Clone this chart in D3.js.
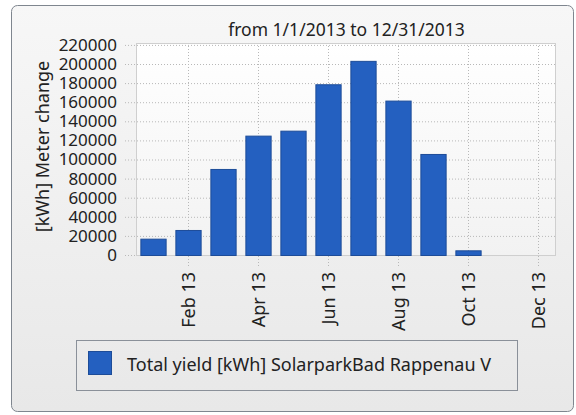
<!DOCTYPE html>
<html>
<head>
<meta charset="utf-8">
<script src="https://cdn.jsdelivr.net/npm/d3@7"></script>
<style>
  body { margin: 0; background: #fff; }
  .axis text { font-family: "Noto Sans", sans-serif; fill: #222; }
  .grid line { stroke: #b8b8b8; stroke-dasharray: 1,2; }
</style>
</head>
<body>
<div class="one"></div>
<script>
// data
let months = ["Jan 13","Feb 13","Mar 13","Apr 13","May 13","Jun 13","Jul 13","Aug 13","Sep 13","Oct 13","Nov 13","Dec 13"];
let values = [17100, 26200, 90100, 125000, 130200, 178800, 203300, 161700, 105800, 4900, 0, 0];
let tickLabels = ["Feb 13","Apr 13","Jun 13","Aug 13","Oct 13","Dec 13"];
let yTicks = [0,20000,40000,60000,80000,100000,120000,140000,160000,180000,200000,220000];
let title = "from 1/1/2013 to 12/31/2013";
let yTitle = "[kWh] Meter change";
let seriesName = "Total yield [kWh] SolarparkBad Rappenau V";

let width = 576, height = 415;
let plot = {left: 136, right: 556, top: 43, bottom: 255};

let svg = d3.select(".one").append("svg")
  .attr("width", width)
  .attr("height", height);

let defs = svg.append("defs");
let bg = defs.append("linearGradient").attr("id","bg").attr("x1",0).attr("y1",0).attr("x2",0).attr("y2",1);
bg.append("stop").attr("offset","0%").attr("stop-color","#f7f7f7");
bg.append("stop").attr("offset","100%").attr("stop-color","#e8e8e8");
let pg = defs.append("linearGradient").attr("id","pg").attr("x1",0).attr("y1",0).attr("x2",0).attr("y2",1);
pg.append("stop").attr("offset","0%").attr("stop-color","#ffffff");
pg.append("stop").attr("offset","100%").attr("stop-color","#f2f2f2");

// outer panel
svg.append("rect")
  .attr("x", 11.5).attr("y", 5.5)
  .attr("width", 562).attr("height", 406)
  .attr("rx", 6)
  .attr("fill", "url(#bg)")
  .attr("stroke", "#7f868f");

let xScale = d3.scaleBand().domain(months)
  .range([plot.left, plot.right])
  .paddingInner(0.25).paddingOuter(0.125);

let yScale = d3.scaleLinear().domain([0, 222000]).range([plot.bottom, plot.top]);

// plot background
svg.append("rect")
  .attr("x", plot.left).attr("y", plot.top)
  .attr("width", plot.right - plot.left).attr("height", plot.bottom - plot.top)
  .attr("fill", "url(#pg)");

let xAxis = d3.axisBottom(xScale)
  .tickValues(tickLabels)
  .tickSizeInner(-(plot.bottom - plot.top))
  .tickSizeOuter(0)
  .tickPadding(6);

let yAxis = d3.axisLeft(yScale)
  .tickValues(yTicks)
  .tickFormat(d3.format("d"))
  .tickSize(-(plot.right - plot.left))
  .tickSizeOuter(0)
  .tickPadding(19);

let gx = svg.append("g")
  .attr("class","axis grid")
  .attr("transform","translate(0," + plot.bottom + ")")
  .call(xAxis);
gx.select(".domain").remove();
// gridline extends a bit below the axis
gx.selectAll(".tick line").attr("y1", 11);
gx.selectAll(".tick text")
  .style("font-size","18px")
  .attr("transform","rotate(-90)")
  .attr("text-anchor","end")
  .attr("x", -17).attr("y", 0).attr("dy", "0.35em");

let gy = svg.append("g")
  .attr("class","axis grid")
  .attr("transform","translate(" + plot.left + ",0)")
  .call(yAxis);
gy.select(".domain").remove();
gy.selectAll(".tick line").attr("x2", plot.right - plot.left).attr("x1", -11);
gy.selectAll(".tick text").style("font-size","17px");

// plot border
svg.append("rect")
  .attr("x", plot.left + 0.5).attr("y", plot.top + 0.5)
  .attr("width", plot.right - plot.left - 1).attr("height", plot.bottom - plot.top)
  .attr("fill","none")
  .attr("stroke","#cfcfcf");

// bars
svg.append("g").selectAll("rect")
  .data(values)
  .join("rect")
  .filter(d => d > 0)
  .attr("x", (d,i) => xScale(months[i]) + 0.5)
  .attr("y", d => yScale(d) + 0.5)
  .attr("width", xScale.bandwidth() - 1)
  .attr("height", d => yScale(0) - yScale(d))
  .attr("fill", "#2460c0")
  .attr("stroke", "#1d4c98");

// title
svg.append("text")
  .attr("x", 346.5).attr("y", 36)
  .attr("text-anchor","middle")
  .style("font-family","Noto Sans, sans-serif")
  .style("font-size","17.5px")
  .attr("fill","#222")
  .text(title);

// y title
svg.append("text")
  .attr("transform","translate(49,146.5) rotate(-90)")
  .attr("text-anchor","middle")
  .style("font-family","Noto Sans, sans-serif")
  .style("font-size","18px")
  .attr("fill","#222")
  .text(yTitle);

// legend
let legend = svg.append("g");
legend.append("rect")
  .attr("x", 76.5).attr("y", 340.5)
  .attr("width", 441).attr("height", 50)
  .attr("fill","none")
  .attr("stroke","#8a9099");
legend.append("rect")
  .attr("x", 88.5).attr("y", 351.5)
  .attr("width", 23).attr("height", 23)
  .attr("fill","#2460c0")
  .attr("stroke","#1d4c98");
legend.append("text")
  .attr("x", 127).attr("y", 370.5)
  .style("font-family","Noto Sans, sans-serif")
  .style("font-size","18px")
  .attr("fill","#222")
  .text(seriesName);
</script>
</body>
</html>
